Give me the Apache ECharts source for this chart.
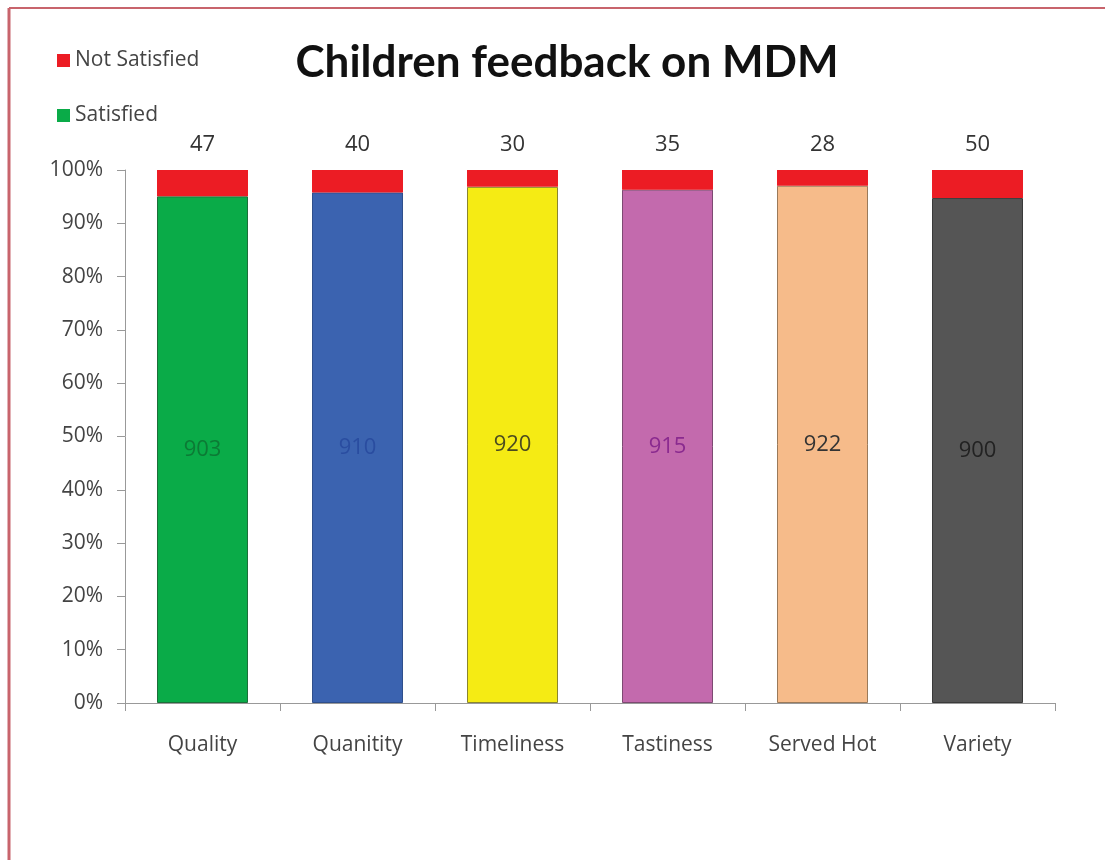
<!DOCTYPE html>
<html>
<head>
    <meta charset="utf-8">
    <title>Children feedback on MDM</title>
    <script src="https://cdn.jsdelivr.net/npm/echarts@6/dist/echarts.min.js"></script>
    <style>
        html, body { margin: 0; padding: 0; background: #fff; }
    </style>
</head>
<body>
    <div id="main" style="width: 1105px;height:860px;"></div>
    <script>
        var categories = ['Quality', 'Quanitity', 'Timeliness', 'Tastiness', 'Served Hot', 'Variety'];
        var satisfied = [903, 910, 920, 915, 922, 900];
        var notSatisfied = [47, 40, 30, 35, 28, 50];
        var barColors = ['#0aab48', '#3b63b0', '#f5eb14', '#c36aad', '#f6bb8a', '#555555'];
        var labelColors = ['#0c7a35', '#2a4da0', '#4a4a20', '#8a2a8f', '#333333', '#222222'];
        var borderColors = ['#1d6e3a', '#2f4f8c', '#8a8530', '#7d4a72', '#9a7a5a', '#3a3a3a'];
        var redColor = '#ec1c24';

        var myChart = echarts.init(document.getElementById('main'));

        // bars are drawn as share of the total, labels show the counts
        var satData = satisfied.map(function (v, i) {
            var total = v + notSatisfied[i];
            return {
                value: v / total * 100,
                raw: v,
                itemStyle: { color: barColors[i], borderColor: borderColors[i], borderWidth: 1 },
                label: { color: labelColors[i] }
            };
        });
        var notData = notSatisfied.map(function (v, i) {
            var total = v + satisfied[i];
            return { value: v / total * 100, raw: v };
        });

        var font = '"Open Sans", Lato, sans-serif';

        var option = {
            animation: false,
            backgroundColor: '#ffffff',
            title: {
                text: 'Children feedback on MDM',
                left: 562,
                top: 36,
                textAlign: 'center',
                textStyle: { fontFamily: 'Lato, sans-serif', fontSize: 44, fontWeight: 'bold', color: '#111' }
            },
            legend: {
                orient: 'vertical',
                left: 52,
                top: 45,
                itemGap: 34,
                itemWidth: 13,
                itemHeight: 13,
                icon: 'rect',
                data: ['Not Satisfied', 'Satisfied'],
                textStyle: { fontFamily: font, fontSize: 21, color: '#444' }
            },
            grid: { left: 125, right: 50, top: 170, bottom: 157 },
            xAxis: {
                type: 'category',
                data: categories,
                axisLine: { lineStyle: { color: '#999' } },
                axisTick: { show: true, length: 8, lineStyle: { color: '#999' } },
                axisLabel: { fontFamily: font, fontSize: 21, color: '#444', margin: 32 }
            },
            yAxis: {
                type: 'value',
                min: 0,
                max: 100,
                interval: 10,
                axisLine: { show: true, lineStyle: { color: '#999' } },
                axisTick: { show: true, length: 8, lineStyle: { color: '#999' } },
                splitLine: { show: false },
                axisLabel: {
                    fontFamily: font, fontSize: 21, color: '#444', margin: 22,
                    formatter: function (v) { return v + '%'; }
                }
            },
            series: [
                {
                    name: 'Satisfied',
                    type: 'bar',
                    stack: 'total',
                    barWidth: 91,
                    itemStyle: { color: '#0aab48' },
                    data: satData,
                    label: {
                        show: true,
                        position: 'inside',
                        fontFamily: font,
                        fontSize: 22,
                        formatter: function (p) { return p.data.raw; }
                    }
                },
                {
                    name: 'Not Satisfied',
                    type: 'bar',
                    stack: 'total',
                    barWidth: 91,
                    itemStyle: { color: redColor },
                    data: notData,
                    label: {
                        show: true,
                        position: 'top',
                        distance: 14,
                        fontFamily: font,
                        fontSize: 22,
                        color: '#333',
                        formatter: function (p) { return p.data.raw; }
                    }
                }
            ],
            graphic: [
                { type: 'line', shape: { x1: 9, y1: 8, x2: 9, y2: 860 }, style: { stroke: '#c8646c', lineWidth: 3 } },
                { type: 'line', shape: { x1: 9, y1: 8, x2: 1105, y2: 8 }, style: { stroke: '#c8646c', lineWidth: 2 } }
            ]
        };

        myChart.setOption(option);
    </script>
</body>
</html>
